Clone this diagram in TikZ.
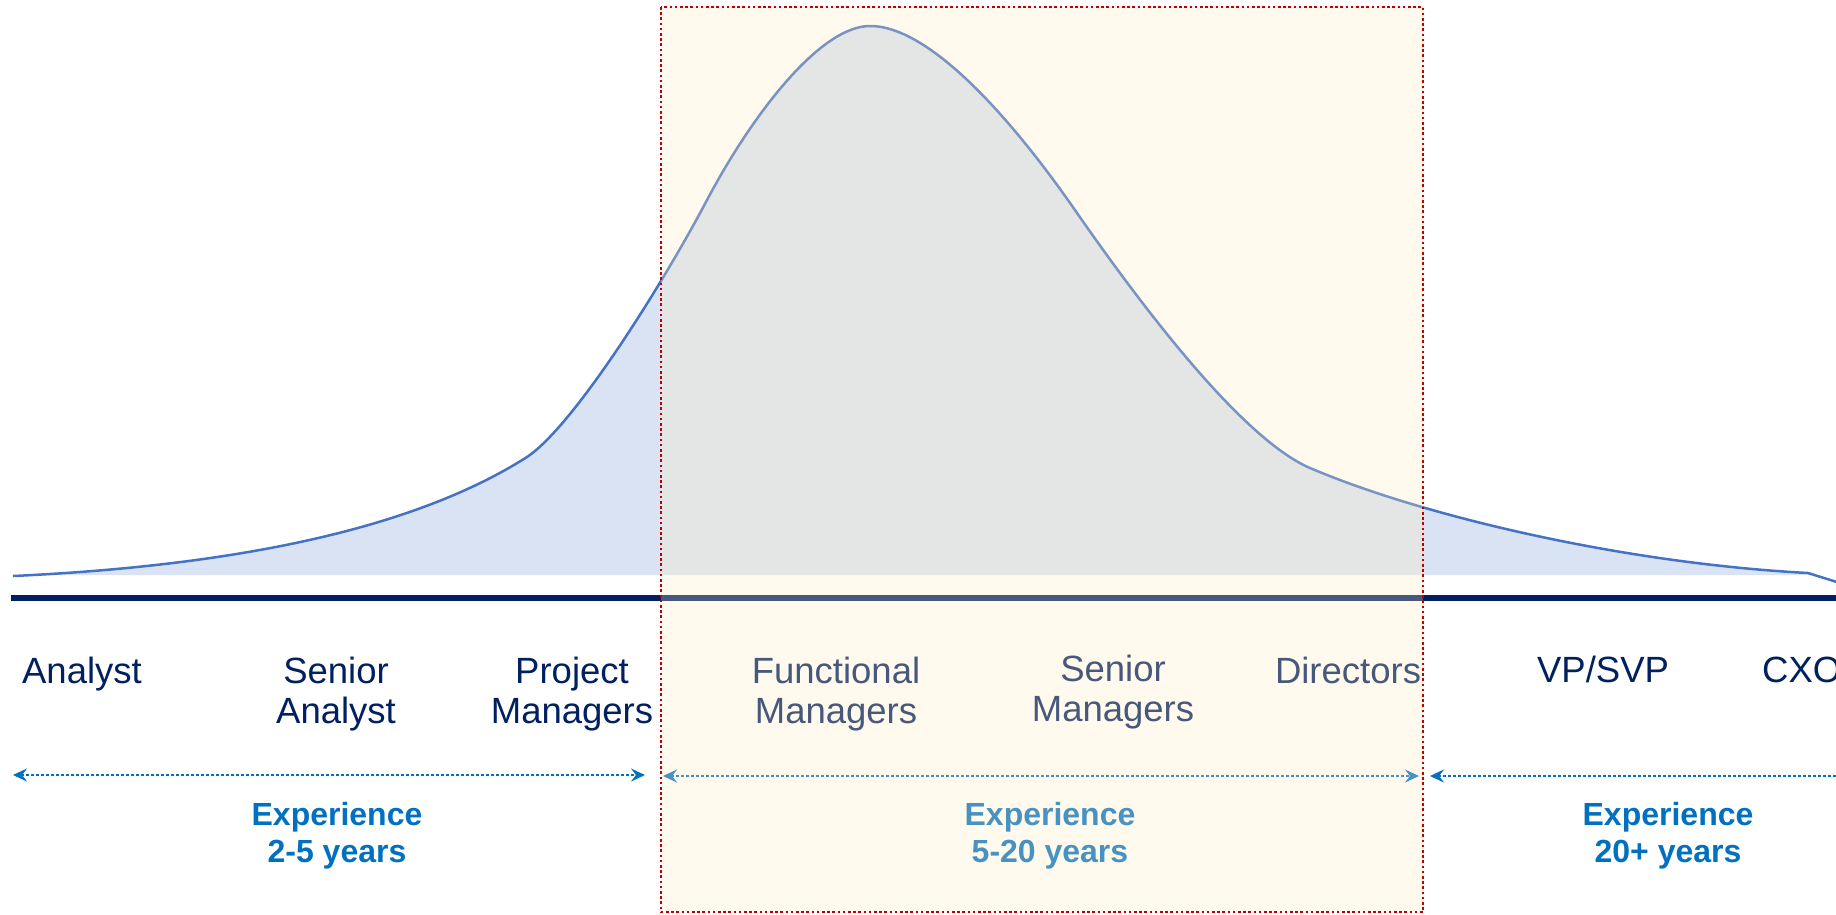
\documentclass[tikz,border=0pt]{standalone}
\usepackage{fontspec}
\setmainfont{Liberation Sans}
\usetikzlibrary{arrows.meta}
\definecolor{navy}{RGB}{0,32,96}
\definecolor{curveline}{RGB}{68,114,196}
\definecolor{curvefill}{RGB}{218,227,243}
\definecolor{expblue}{RGB}{0,112,192}
\definecolor{creamfill}{RGB}{255,237,194}
\definecolor{boxred}{RGB}{192,0,0}
\tikzset{
  role/.style={font=\fontsize{36.5}{40}\selectfont, text=navy, align=center, inner sep=0pt, anchor=base},
  exper/.style={font=\fontsize{32}{37.5}\selectfont\bfseries, text=expblue, align=center, inner sep=0pt, anchor=base},
  span/.style={draw=expblue, line width=2.2pt, dash pattern=on 2.4pt off 2.6pt,
    {Stealth[length=14pt,width=13pt,inset=5pt]}-{Stealth[length=14pt,width=13pt,inset=5pt]}},
}
\def\bellpath{(13,576) .. controls (250,565) and (420,525) .. (527,457)
  .. controls (575,425) and (665,280) .. (707,200)
  .. controls (752,115) and (820,26) .. (870,26)
  .. controls (940,26) and (1035,152) .. (1077,213)
  .. controls (1150,318) and (1245,440) .. (1310,468)
  .. controls (1420,515) and (1620,563) .. (1808,573)}
\begin{document}
\begin{tikzpicture}[x=1pt,y=-1pt]
\useasboundingbox (0,0) rectangle (1836,914);
\clip (0,0) rectangle (1836,914);
\fill[white] (0,0) rectangle (1836,914);
% distribution curve
\fill[curvefill] \bellpath -- (1812,575) -- (13,575) -- cycle;
\draw[curveline, line width=2.5pt] \bellpath -- (1840,583);
% axis
\coordinate (axL) at (11,598);
\coordinate (axR) at (1840,598);
\draw[navy, line width=5.5pt] (axL) -- (axR);
% role labels (base = last line)
\node[role] (analyst) at (82,683) {Analyst};
\node[role] (senan) at (336,723) {Senior\\Analyst};
\node[role] (projm) at (572,723) {Project\\Managers};
\node[role] (funcm) at (836,723) {Functional\\Managers};
\node[role] (senm) at (1113,721) {Senior\\Managers};
\node[role] (dir) at (1348,683) {Directors};
\node[role] (vp) at (1603,682) {VP/SVP};
\node[role, anchor=base west] (cxo) at (1762,682) {CXO};
% experience spans
\coordinate (s1a) at (13,775);
\coordinate (s1b) at (645,775);
\coordinate (s2a) at (663,776);
\coordinate (s2b) at (1419,776);
\coordinate (s3a) at (1430,776);
\coordinate (s3b) at (1905,776);
\draw[span] (s1a) -- (s1b);
\draw[span] (s2a) -- (s2b);
\draw[span] (s3a) -- (s3b);
\node[exper] (e1) at (337,862.5) {Experience\\2-5 years};
\node[exper] (e2) at (1050,862.5) {Experience\\5-20 years};
\node[exper] (e3) at (1668,862.5) {Experience\\20+ years};
% highlight box
\fill[creamfill, fill opacity=0.28] (661,7) rectangle (1423,912);
\draw[boxred, line width=2.5pt, dash pattern=on 2.6pt off 2.6pt] (661,7) rectangle (1423,912);
\end{tikzpicture}
\end{document}
